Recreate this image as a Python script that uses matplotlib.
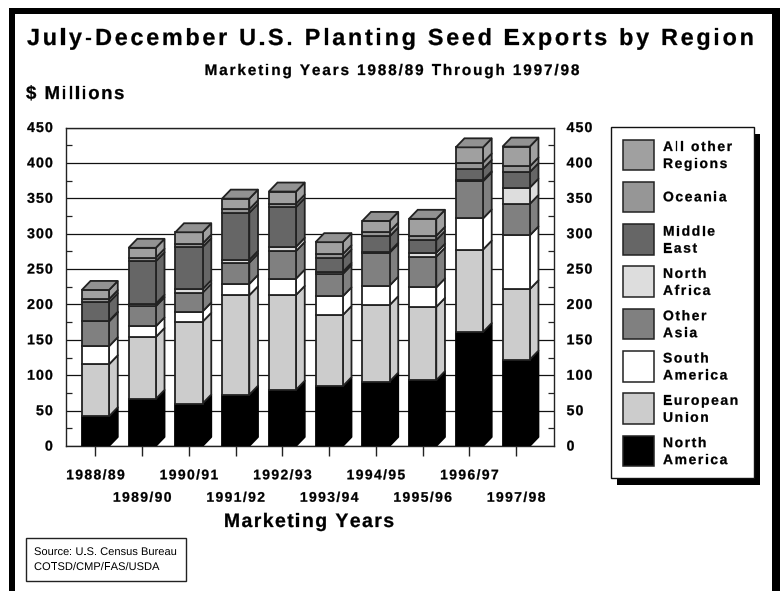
import matplotlib
matplotlib.use("Agg")
import numpy as np
import matplotlib.pyplot as plt
from matplotlib import font_manager, transforms
from matplotlib.colors import to_rgb
from matplotlib.font_manager import FontProperties
from matplotlib.ft2font import LoadFlags
from matplotlib.patches import Rectangle
from matplotlib.text import Text
from matplotlib.textpath import TextPath

plt.rcParams['font.family'] = ['Liberation Sans', 'DejaVu Sans']

# data, $ millions
years = ['1988/89', '1989/90', '1990/91', '1991/92', '1992/93',
         '1993/94', '1994/95', '1995/96', '1996/97', '1997/98']
north_america = [42, 66.5, 60, 72.5, 79.5, 84.5, 91, 93, 161, 122]
european_union = [73.5, 87.5, 115.5, 140.5, 134, 100.5, 108, 103.5, 116.5, 99.5]
south_america = [25.5, 15, 14.5, 16, 23, 26.5, 27.5, 27.5, 44, 76]
other_asia = [35, 28.5, 26.5, 30, 39, 31.5, 46.5, 43.5, 52.5, 44.5]
north_africa = [1, 3.5, 5, 4, 6, 3, 1.5, 5.5, 1.5, 23]
middle_east = [26, 60, 59.5, 66.5, 56, 19, 21.5, 18, 16, 22]
oceania = [4.5, 5, 5, 5, 5, 6, 7, 6, 9, 8]
all_other = [13, 14, 16, 15, 17, 17, 15, 24, 21.5, 28]

series = [north_america, european_union, south_america, other_asia,
          north_africa, middle_east, oceania, all_other]
colors = ['#000000', '#cccccc', '#ffffff', '#808080',
          '#dddddd', '#666666', '#969696', '#a0a0a0']
# top of the legend first
legend_labels = [['All other', 'Regions'], ['Oceania'], ['Middle', 'East'],
                 ['North', 'Africa'], ['Other', 'Asia'], ['South', 'America'],
                 ['European', 'Union'], ['North', 'America']]
legend_colors = colors[::-1]


class SpacedText(Text):
    # matplotlib has no letter spacing, so draw glyph by glyph as paths
    def __init__(self, *args, spacing=0, **kwargs):
        super().__init__(*args, **kwargs)
        self.spacing = spacing

    def draw(self, renderer):
        fp = self.get_fontproperties()
        dpi = self.get_figure().dpi
        font = font_manager.get_font(font_manager.findfont(fp))
        font.set_size(fp.get_size_in_points(), dpi)
        adv = [font.load_char(ord(c), flags=LoadFlags.NO_HINTING).linearHoriAdvance / 65536
               + self.spacing for c in self.get_text()]
        x, y = self.get_transform().transform(self.get_unitless_position())
        total = sum(adv) - self.spacing
        if self.get_ha() == 'center':
            x -= total / 2
        elif self.get_ha() == 'right':
            x -= total
        gc = renderer.new_gc()
        gc.set_foreground(self.get_color())
        gc.set_linewidth(0.2 if fp.get_weight() == 'bold' else 0)
        size_px = fp.get_size_in_points() * dpi / 72
        for c, a in zip(self.get_text(), adv):
            if c != ' ':
                tp = TextPath((x, y), c, size=size_px, prop=fp)
                renderer.draw_path(gc, tp, transforms.IdentityTransform(),
                                   rgbFace=to_rgb(self.get_color()))
            x += a
        gc.restore()


W, H = 780, 591
fig = plt.figure(figsize=(W / 100, H / 100), dpi=100, facecolor='white')

# overlay in pixel coordinates for frame, legend and titles
page = fig.add_axes([0, 0, 1, 1], zorder=0)
page.set_xlim(0, W)
page.set_ylim(H, 0)
page.axis('off')


def label(x, y, s, size, spacing=0, ha='left', weight='bold', target=None):
    fp = FontProperties(family='Liberation Sans', weight=weight, size=size)
    t = SpacedText(x, y, s, spacing=spacing, ha=ha, fontproperties=fp, color='black',
                   transform=target if target is not None else page.transData,
                   clip_on=False)
    fig.add_artist(t)
    return t


# thick page border, open at the bottom
page.add_patch(Rectangle((9, 8), 6, H, fc='black', ec='none'))
page.add_patch(Rectangle((9, 8), W - 9, 6, fc='black', ec='none'))
page.add_patch(Rectangle((772, 8), 8, H, fc='black', ec='none'))

label(27, 45, 'July-December U.S. Planting Seed Exports by Region', 16.8, spacing=2.72)
label(392, 75, 'Marketing Years 1988/89 Through 1997/98', 11, spacing=1.9, ha='center')
label(26, 99, '$ Millions', 13.4, spacing=1.5)
label(309, 527, 'Marketing Years', 14, spacing=1.4, ha='center')

# source box
page.add_patch(Rectangle((25.5, 538), 160, 43, fc='white', ec='#222222', lw=1))
label(34, 555, 'Source: U.S. Census Bureau', 8, weight='normal')
label(34, 570, 'COTSD/CMP/FAS/USDA', 8, weight='normal')

# legend with drop shadow
page.add_patch(Rectangle((617, 134), 143, 351, fc='black', ec='none'))
page.add_patch(Rectangle((610.5, 127), 143.5, 351, fc='white', ec='#111111', lw=1))
for i, (lines, col) in enumerate(zip(legend_labels, legend_colors)):
    top = 139.5 + i * 42.3
    page.add_patch(Rectangle((623, top), 30.5, 30.5, fc=col, ec='#222222', lw=1.1))
    if len(lines) == 2:
        label(663, top + 11.5, lines[0], 10, spacing=1.6)
        label(663, top + 28.5, lines[1], 10, spacing=1.6)
    else:
        label(663, top + 19.5, lines[0], 10, spacing=1.6)

# main plot
ax = fig.add_axes([65.5 / W, 1 - 446 / H, 488.5 / W, 318.5 / H], zorder=1)
x = np.arange(len(years))
width = 0.583
ax.set_xlim(-0.641, 9.81)
ax.set_ylim(0, 450)

# depth of the 3d effect, in data units
dx = 8.7 / 46.8
dy = 9 * 450 / 318.5

bottom = np.zeros(len(years))
for vals, col in zip(series, colors):
    vals = np.array(vals, dtype=float)
    edge = '#000000' if col == '#000000' else '#222222'
    for xi, b, v in zip(x, bottom, vals):
        r = xi + width / 2
        ax.fill([r, r + dx, r + dx, r], [b, b + dy, b + v + dy, b + v],
                fc=col, ec=edge, lw=1.3, zorder=3, joinstyle='round')
    ax.bar(x, vals, width, bottom=bottom, color=col, edgecolor=edge, lw=1.3, zorder=4)
    bottom += vals

for xi, b in zip(x, bottom):
    l, r = xi - width / 2, xi + width / 2
    ax.fill([l, r, r + dx, l + dx], [b, b, b + dy, b + dy],
            fc='#929292', ec='#222222', lw=1.3, zorder=5)

ax.set_yticks(np.arange(0, 451, 50))
ax.set_yticks(np.arange(25, 450, 50), minor=True)
ax.set_xticks(x)
ax.set_xticklabels([])
ax.set_yticklabels([])
ax.grid(axis='y', color='#111111', lw=0.9, zorder=1)
ax.set_axisbelow(True)
ax.tick_params(axis='y', which='major', length=0)
ax.tick_params(axis='y', which='minor', direction='in', left=True, right=True,
               length=4.3, width=0.9, color='#222222')
ax.tick_params(axis='x', which='major', direction='out', length=7.5, width=1, color='#222222')
for s in ax.spines.values():
    s.set_linewidth(1)
    s.set_color('#222222')

# tick labels, spaced like the rest of the text
ty = transforms.offset_copy(ax.get_yaxis_transform(), fig, y=-4.5, units='dots')
for v in np.arange(0, 451, 50):
    label(-0.026, v, str(v), 10.2, spacing=1.1, ha='right', target=ty)
    label(1.0257, v, str(v), 10.2, spacing=1.1, target=ty)

tx = ax.get_xaxis_transform()
for i, yr in enumerate(years):
    row = -0.1046 if i % 2 == 0 else -0.175
    label(i, row, yr, 10, spacing=1.4, ha='center', target=tx)

fig.savefig('out.png', dpi=100)
